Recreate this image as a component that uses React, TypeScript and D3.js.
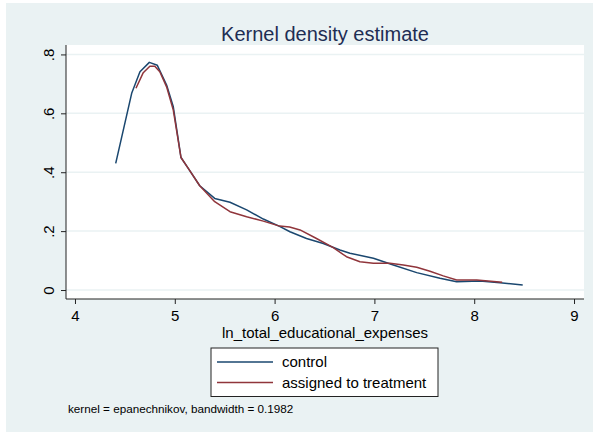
import * as d3 from "d3";
import { useEffect, useRef } from "react";

// control group density (x, y)
const controlX = [4.408, 4.568, 4.651, 4.745, 4.825, 4.918, 4.985, 5.062, 5.135, 5.25, 5.40, 5.553, 5.72, 5.887, 6.05, 6.154, 6.32, 6.488, 6.655, 6.755, 6.99, 7.19, 7.424, 7.657, 7.824, 8.058, 8.258, 8.486];
const controlY = [0.430, 0.668, 0.741, 0.773, 0.763, 0.696, 0.622, 0.450, 0.413, 0.354, 0.311, 0.298, 0.272, 0.241, 0.216, 0.198, 0.175, 0.158, 0.136, 0.125, 0.108, 0.085, 0.059, 0.040, 0.028, 0.031, 0.025, 0.017];

// assigned to treatment
const treatX = [4.611, 4.684, 4.75, 4.80, 4.85, 4.918, 4.985, 5.062, 5.135, 5.25, 5.40, 5.553, 5.72, 5.887, 6.05, 6.15, 6.255, 6.42, 6.588, 6.72, 6.855, 6.99, 7.156, 7.29, 7.424, 7.557, 7.69, 7.824, 8.025, 8.28];
const treatY = [0.685, 0.738, 0.760, 0.760, 0.741, 0.690, 0.611, 0.450, 0.413, 0.354, 0.300, 0.266, 0.249, 0.234, 0.217, 0.214, 0.204, 0.175, 0.144, 0.113, 0.096, 0.091, 0.091, 0.085, 0.077, 0.064, 0.048, 0.034, 0.034, 0.026];

const xTicks = [4, 5, 6, 7, 8, 9];
const yTicks = [0, 0.2, 0.4, 0.6, 0.8];
const yTickLabels = ["0", ".2", ".4", ".6", ".8"];

const seriesNames = ["control", "assigned to treatment"];
const seriesColors = ["#1a476f", "#90353b"];

const W = 593;
const H = 432;
const bg = "#eaf2f3";
const font = "'Liberation Sans', Arial, sans-serif";

export default function App() {
  const ref = useRef<SVGSVGElement | null>(null);

  useEffect(() => {
    const svg = d3.select(ref.current);
    svg.selectAll("*").remove();

    // plot region
    const left = 66, right = 584, top = 45, bottom = 299;

    const x = d3.scaleLinear().domain([3.91, 9.1]).range([left, right]);
    const y = d3.scaleLinear().domain([-0.0305, 0.832]).range([bottom, top]);

    svg.append("rect").attr("x", 0).attr("y", 0).attr("width", W).attr("height", H).attr("fill", "#fff");
    svg.append("rect").attr("x", 6).attr("y", 3).attr("width", W - 6).attr("height", H - 3).attr("fill", bg);
    svg.append("rect").attr("x", left).attr("y", top).attr("width", right - left).attr("height", bottom - top).attr("fill", "#fff");

    // grid
    svg.append("g")
      .selectAll("line")
      .data(yTicks)
      .enter()
      .append("line")
      .attr("x1", left)
      .attr("x2", right)
      .attr("y1", d => y(d))
      .attr("y2", d => y(d))
      .attr("stroke", bg)
      .attr("stroke-width", 1.5);

    // axes
    const yAxis = d3.axisLeft(y).tickValues(yTicks).tickSize(5).tickFormat((d, i) => yTickLabels[i]);
    const gy = svg.append("g").attr("transform", `translate(${left},0)`).call(yAxis);
    gy.select(".domain").attr("d", `M0,${top}V${bottom}`).attr("stroke", "#222");
    gy.selectAll(".tick line").attr("stroke", "#222");
    gy.selectAll(".tick text")
      .attr("x", 0)
      .attr("dy", 0)
      .attr("transform", "translate(-12,0) rotate(-90)")
      .attr("text-anchor", "middle")
      .style("font-family", font)
      .style("font-size", "15px")
      .attr("fill", "#000");

    const xAxis = d3.axisBottom(x).tickValues(xTicks).tickSize(5).tickFormat(d3.format("d"));
    const gx = svg.append("g").attr("transform", `translate(0,${bottom})`).call(xAxis);
    gx.select(".domain").attr("d", `M${left},0H${right}`).attr("stroke", "#222");
    gx.selectAll(".tick line").attr("stroke", "#222");
    gx.selectAll(".tick text")
      .attr("y", 21.5)
      .attr("dy", 0)
      .style("font-family", font)
      .style("font-size", "15px")
      .attr("fill", "#000");

    // curves
    const line = d3.line<[number, number]>().x(d => x(d[0])).y(d => y(d[1]));
    const series = [
      d3.zip(controlX, controlY) as [number, number][],
      d3.zip(treatX, treatY) as [number, number][],
    ];
    series.forEach((s, i) => {
      svg.append("path")
        .attr("d", line(s))
        .attr("fill", "none")
        .attr("stroke", seriesColors[i])
        .attr("stroke-width", 1.5)
        .attr("stroke-linejoin", "round");
    });

    // titles
    svg.append("text")
      .attr("x", (left + right) / 2)
      .attr("y", 41)
      .attr("text-anchor", "middle")
      .style("font-family", font)
      .style("font-size", "20px")
      .attr("fill", "#1e2d53")
      .text("Kernel density estimate");

    svg.append("text")
      .attr("x", (left + right) / 2)
      .attr("y", 338)
      .attr("text-anchor", "middle")
      .style("font-family", font)
      .style("font-size", "15px")
      .attr("fill", "#000")
      .text("ln_total_educational_expenses");

    // legend
    const lg = svg.append("g");
    lg.append("rect")
      .attr("x", 211).attr("y", 348)
      .attr("width", 227).attr("height", 48.5)
      .attr("fill", "#fff").attr("stroke", "#222").attr("stroke-width", 1);
    seriesNames.forEach((n, i) => {
      const ly = 362 + i * 20.5;
      lg.append("line")
        .attr("x1", 217).attr("x2", 273)
        .attr("y1", ly).attr("y2", ly)
        .attr("stroke", seriesColors[i]).attr("stroke-width", 1.5);
      lg.append("text")
        .attr("x", 282).attr("y", ly + 5)
        .style("font-family", font)
        .style("font-size", "15px")
        .attr("fill", "#000")
        .text(n);
    });

    svg.append("text")
      .attr("x", 68)
      .attr("y", 413)
      .style("font-family", font)
      .style("font-size", "11.7px")
      .attr("fill", "#000")
      .text("kernel = epanechnikov, bandwidth = 0.1982");
  }, []);

  return (
    <svg ref={ref} width={W} height={H} style={{ position: "absolute", left: 0, top: 0 }}></svg>
  );
}
